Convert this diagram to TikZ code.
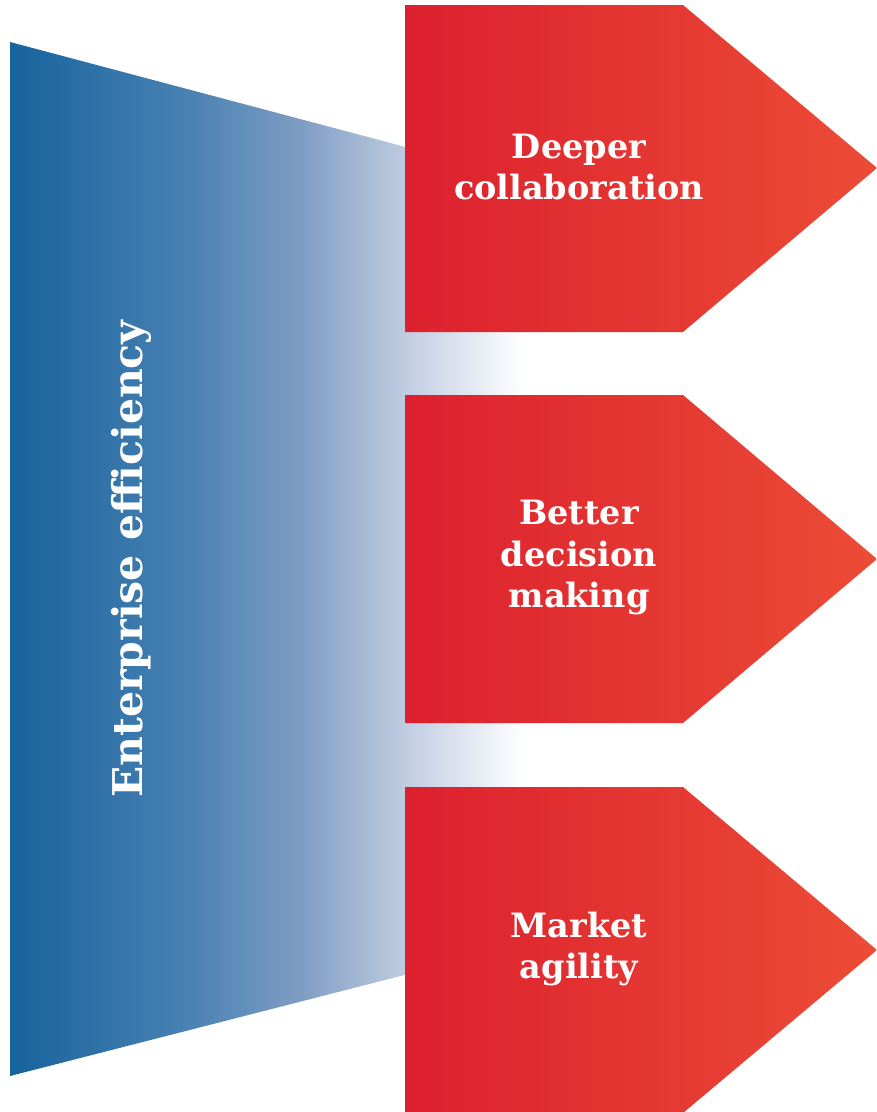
\documentclass[tikz,border=0pt]{standalone}
\usepackage{fontspec}
\setmainfont{DejaVu Serif}

\definecolor{effblue}{HTML}{17639D}
\definecolor{effmid}{HTML}{4A82B3}
\definecolor{efflight}{HTML}{7E9CC3}
\definecolor{effpale}{HTML}{C6D1E4}
\definecolor{arrowleft}{HTML}{DC202E}
\definecolor{arrowright}{HTML}{EC4C36}

\pgfdeclarehorizontalshading{effshade}{100bp}{color(0bp)=(effblue); color(25bp)=(effblue);
  color(42bp)=(effmid); color(52bp)=(efflight); color(63bp)=(effpale); color(73bp)=(white); color(100bp)=(white)}

\begin{document}
\begin{tikzpicture}[x=1pt, y=-1pt,
    arrowfill/.style={left color=arrowleft, right color=arrowright},
    arrowtext/.style={text=white, align=center, font=\bfseries\fontsize{33.5}{41.5}\selectfont},
  ]
  \useasboundingbox (0, 0) rectangle (877, 1112);

  % Efficiency funnel
  \shade[shading=effshade] (10, 42) -- (545, 184) -- (545, 939) -- (10, 1076) -- cycle;
  \node[rotate=90, text=white, font=\bfseries\fontsize{41}{48}\selectfont] (eff) at (131, 559) {Enterprise efficiency};

  % Outcome arrows
  \shade[arrowfill] (405, 5) -- (683, 5) -- (877, 168) -- (683, 332) -- (405, 332) -- cycle;
  \node[arrowtext] (collab) at (579, 167) {Deeper\\collaboration};

  \shade[arrowfill] (405, 395) -- (683, 395) -- (877, 559) -- (683, 723) -- (405, 723) -- cycle;
  \node[arrowtext] (decision) at (579, 558) {Better\\decision\\making};

  \shade[arrowfill] (405, 787) -- (683, 787) -- (877, 950) -- (683, 1113) -- (405, 1113) -- cycle;
  \node[arrowtext] (agility) at (579, 949) {Market\\agility};
\end{tikzpicture}
\end{document}
